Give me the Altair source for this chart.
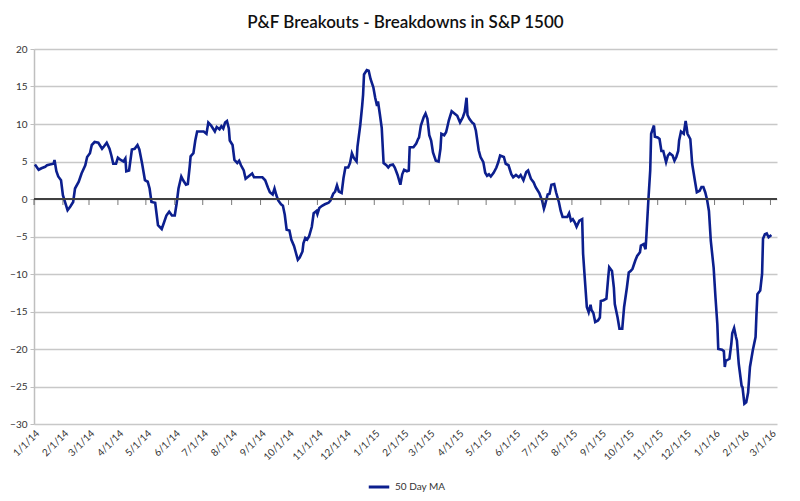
import altair as alt
import pandas as pd

TITLE = "P&F Breakouts - Breakdowns in S&P 1500"
SERIES = "50 Day MA"
START = "2014-01-01"
END = "2016-03-08"

# days elapsed since 1/1/14 for each reading, and the 50-day MA reading
day_offsets = [
    1, 5, 8, 12, 14, 17, 21, 22, 24, 26, 29, 31, 36, 39, 42, 44, 48, 51, 55, 57,
    60, 62, 65, 69, 73, 75, 78, 81, 83, 85, 88, 90, 93, 96, 98, 99, 102, 105, 108, 111,
    113, 116, 119, 122, 124, 126, 130, 133, 137, 139, 142, 145, 148, 151, 153, 155, 158, 160, 163, 165,
    167, 168, 171, 173, 175, 178, 182, 185, 187, 190, 192, 194, 196, 199, 201, 203, 205, 207, 209, 210,
    213, 215, 218, 220, 222, 225, 227, 230, 234, 236, 239, 243, 245, 248, 251, 253, 256, 258, 260, 262,
    265, 267, 269, 271, 274, 276, 279, 281, 283, 285, 288, 289, 291, 293, 295, 298, 300, 303, 304, 306,
    309, 312, 316, 318, 321, 323, 325, 327, 330, 332, 334, 337, 339, 341, 343, 346, 347, 350, 352, 353,
    354, 357, 359, 361, 364, 366, 368, 369, 371, 373, 375, 378, 380, 382, 385, 387, 390, 393, 395, 397,
    400, 402, 403, 407, 410, 412, 413, 415, 418, 420, 422, 424, 426, 428, 431, 434, 436, 437, 440, 442,
    443, 445, 448, 451, 454, 457, 460, 462, 464, 465, 467, 470, 472, 474, 477, 479, 482, 484, 486, 488,
    490, 493, 496, 498, 500, 504, 506, 509, 512, 514, 517, 520, 522, 525, 528, 530, 533, 536, 538, 539,
    542, 545, 547, 548, 551, 553, 555, 558, 560, 563, 565, 567, 570, 572, 574, 576, 578, 580, 582, 585,
    588, 589, 591, 593, 595, 597, 598, 600, 602, 605, 607, 608, 611, 614, 616, 617, 620, 622, 623, 626,
    628, 631, 633, 636, 638, 640, 642, 645, 647, 650, 651, 654, 656, 657, 659, 661, 662, 665, 666, 669,
    671, 673, 675, 678, 680, 682, 685, 687, 689, 691, 692, 694, 697, 699, 700, 701, 704, 705, 706, 709,
    711, 714, 716, 718, 720, 722, 724, 726, 729, 731, 733, 734, 738, 740, 741, 742, 746, 748, 749, 751,
    753, 754, 756, 759, 760, 762, 764, 766, 768, 771, 774, 775, 776, 779, 781, 782, 784, 786, 788, 790,
    791,
]

ma_values = [
    4.6, 3.9, 4.1, 4.3, 4.5, 4.6, 4.7, 5.2, 3.7, 3.0, 2.5, 0.5, -1.5, -1.0, -0.4, 1.4, 2.3, 3.4, 4.5, 5.6,
    6.1, 7.2, 7.6, 7.5, 6.7, 7.0, 7.5, 6.7, 5.8, 4.7, 4.7, 5.5, 5.2, 5.0, 5.4, 3.7, 3.8, 6.6, 6.7, 7.2,
    6.6, 4.7, 2.5, 2.3, 1.4, -0.4, -0.5, -3.5, -4.0, -3.3, -2.2, -1.7, -2.2, -2.2, -0.6, 1.4, 3.0, 2.5, 1.9, 2.0,
    4.3, 5.7, 6.1, 7.8, 9.0, 9.0, 9.0, 8.7, 10.2, 9.8, 9.4, 9.0, 9.6, 9.3, 9.7, 9.4, 10.2, 10.4, 9.4, 7.8,
    7.2, 5.2, 4.8, 5.1, 4.5, 3.8, 2.7, 3.0, 3.4, 2.9, 2.9, 2.9, 2.9, 2.5, 1.5, 0.9, 0.6, 1.4, 0.5, -0.2,
    -0.7, -0.9, -2.1, -4.1, -4.2, -5.4, -6.3, -7.2, -8.1, -7.8, -7.0, -5.9, -5.2, -5.4, -5.0, -3.7, -1.9, -1.6, -2.0, -1.2,
    -0.9, -0.7, -0.5, -0.2, 0.7, 1.0, 1.8, 1.0, 0.8, 2.8, 4.2, 4.2, 4.8, 6.1, 5.5, 5.0, 7.0, 9.9, 12.4, 13.9,
    16.6, 17.2, 17.1, 16.0, 14.9, 13.5, 12.4, 13.0, 11.3, 9.5, 4.8, 4.5, 4.2, 4.5, 4.6, 4.2, 3.2, 1.9, 3.3, 3.9,
    3.7, 3.8, 6.9, 6.9, 7.4, 8.0, 8.2, 9.8, 10.9, 11.4, 10.7, 8.5, 7.8, 6.2, 5.1, 5.0, 6.7, 8.7, 8.5, 8.9,
    9.4, 10.5, 11.7, 11.4, 11.1, 10.2, 10.9, 11.6, 13.5, 11.2, 10.7, 10.2, 10.0, 9.1, 6.5, 5.6, 4.9, 3.5, 3.1, 3.3,
    3.0, 3.5, 4.2, 4.9, 5.8, 5.6, 4.7, 4.5, 3.3, 2.9, 3.2, 2.9, 3.2, 2.5, 3.6, 3.8, 2.7, 2.2, 1.6, 1.4,
    0.8, -0.2, -1.3, -0.9, 0.6, 0.7, 1.9, 2.0, 0.9, -0.4, -1.6, -2.4, -2.4, -2.4, -1.9, -2.9, -2.7, -3.1, -3.7, -2.9,
    -2.7, -7.3, -10.9, -14.4, -15.1, -14.1, -14.8, -15.2, -16.4, -16.2, -15.8, -13.6, -13.5, -13.3, -10.4, -9.1, -9.6, -11.8, -14.0, -15.8,
    -17.3, -17.3, -14.4, -11.8, -9.8, -9.6, -9.3, -8.2, -7.6, -7.1, -6.2, -6.0, -6.7, -4.7, -0.2, 3.8, 8.7, 9.8, 8.3, 8.2,
    8.0, 6.4, 6.4, 4.9, 5.8, 6.1, 5.8, 5.1, 5.6, 6.4, 7.8, 9.0, 8.7, 10.4, 9.6, 8.7, 8.0, 6.4, 4.7, 2.4,
    0.9, 1.1, 1.6, 1.6, 0.9, -0.1, -1.6, -5.6, -9.1, -13.1, -16.7, -20.0, -20.1, -20.3, -22.4, -21.6, -21.3, -19.3, -17.9, -17.2,
    -18.4, -18.9, -22.0, -24.9, -25.1, -27.3, -27.1, -25.8, -22.4, -20.2, -18.4, -15.3, -12.7, -12.2, -10.0, -5.3, -4.7, -4.6, -5.1, -4.9,
    -4.8,
]

tick_dates = [
    "2014-01-01", "2014-02-01", "2014-03-01", "2014-04-01", "2014-05-01", "2014-06-01",
    "2014-07-01", "2014-08-01", "2014-09-01", "2014-10-01", "2014-11-01", "2014-12-01",
    "2015-01-01", "2015-02-01", "2015-03-01", "2015-04-01", "2015-05-01", "2015-06-01",
    "2015-07-01", "2015-08-01", "2015-09-01", "2015-10-01", "2015-11-01", "2015-12-01",
    "2016-01-01", "2016-02-01", "2016-03-01",
]
y_ticks = [-30, -25, -20, -15, -10, -5, 0, 5, 10, 15, 20]

dates = (pd.Timestamp(START) + pd.to_timedelta(day_offsets, unit="D")).strftime("%Y-%m-%d")
df = pd.DataFrame({"date": dates, "value": ma_values, "series": SERIES})
ticks_df = pd.DataFrame({"date": tick_dates, "zero": 0})

FONT = "Lato"
LINE_COLOR = "#0c1f8e"

x_scale = alt.Scale(type="utc", domain=[START, END])
y_scale = alt.Scale(domain=[-30, 20], nice=False)

x_axis = alt.Axis(
    values=[alt.DateTime(year=int(d[:4]), month=int(d[5:7]), date=1, utc=True) for d in tick_dates],
    labelExpr="utcFormat(datum.value, '%-m/%-d/%y')",
    labelAngle=-45,
    labelFontSize=10,
    labelColor="#333333",
    labelPadding=4,
    labelOverlap=False,
    ticks=False,
    domain=False,
    grid=False,
    title=None,
)
y_axis = alt.Axis(
    values=y_ticks,
    labelFontSize=10,
    labelColor="#333333",
    labelOverlap=False,
    tickColor="#bfbfbf",
    tickSize=4,
    domainColor="#bfbfbf",
    domainWidth=1.5,
    gridColor="#c8c8c8",
    gridWidth=1.5,
    labelPadding=3,
    title=None,
)

line = alt.Chart(df).mark_line(strokeWidth=2.6, interpolate="linear").encode(
    x=alt.X("date:T", scale=x_scale, axis=x_axis),
    y=alt.Y("value:Q", scale=y_scale, axis=y_axis),
    color=alt.Color(
        "series:N",
        scale=alt.Scale(domain=[SERIES], range=[LINE_COLOR]),
        legend=alt.Legend(
            title=None,
            orient="none",
            legendX=333,
            legendY=426,
            symbolType="stroke",
            symbolStrokeWidth=3,
            symbolSize=420,
            labelFontSize=10,
            labelColor="#333333",
        ),
    ),
)

zero_rule = alt.Chart(ticks_df).mark_rule(color="#404040", strokeWidth=1).encode(
    y=alt.Y("zero:Q", scale=y_scale, axis=y_axis),
)

zero_ticks = alt.Chart(ticks_df).mark_tick(
    color="#404040", size=6, thickness=1, yOffset=3, orient="vertical"
).encode(
    x=alt.X("date:T", scale=x_scale, axis=x_axis),
    y=alt.Y("zero:Q", scale=y_scale, axis=y_axis),
)

chart = alt.layer(line, zero_rule, zero_ticks).properties(
    width=743,
    height=375,
    title=alt.TitleParams(TITLE, fontSize=17, font=FONT, fontWeight=600, color="#111111", offset=12),
    padding={"left": 26, "top": 41, "right": 15, "bottom": 70},
    autosize=alt.AutoSizeParams(type="none"),
    background="white",
).configure(font=FONT).configure_view(stroke=None)

chart.save("out.html", embed_options={"renderer": "svg", "actions": False})
